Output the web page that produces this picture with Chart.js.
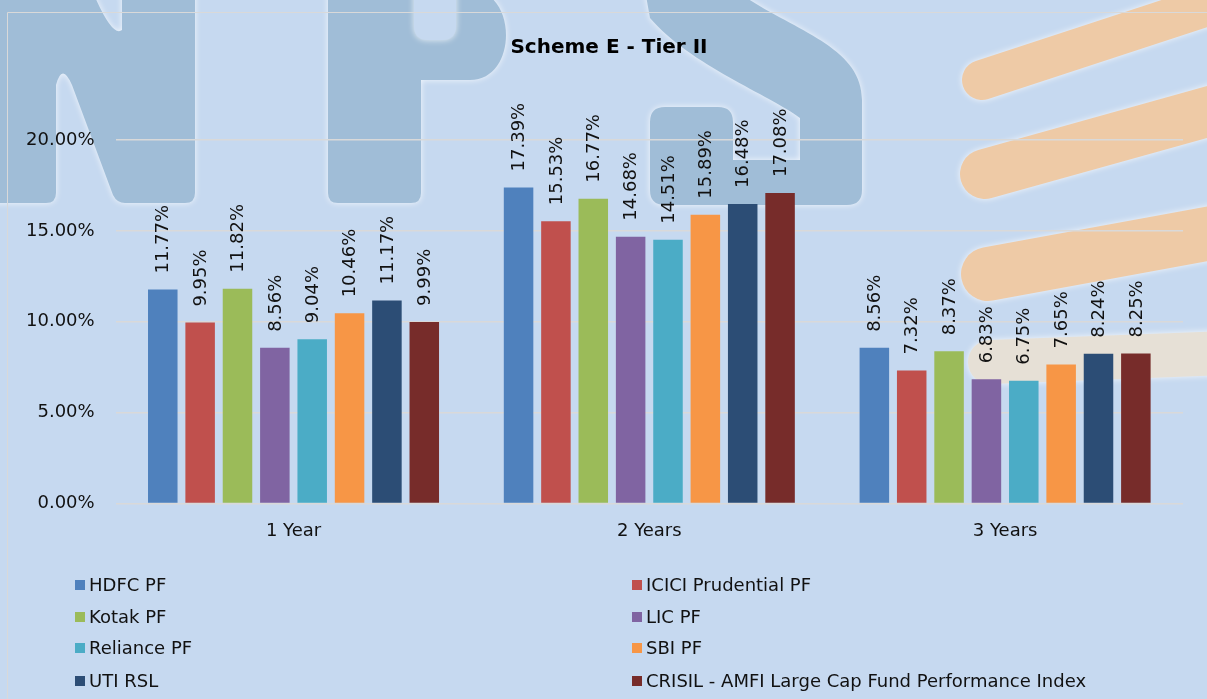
<!DOCTYPE html>
<html>
<head>
<meta charset="utf-8">
<script src="https://cdn.jsdelivr.net/npm/chart.js@4.4.0/dist/chart.umd.min.js"></script>
<style>
  html, body { margin: 0; padding: 0; background: #c6d9f0; }
  #wrap { width: 1207px; height: 699px; }
</style>
</head>
<body>
<div id="wrap"><canvas id="schemeChart" width="1207" height="699"></canvas></div>
<script>
// data
var categories = ['1 Year', '2 Years', '3 Years'];
var seriesNames = ['HDFC PF', 'ICICI Prudential PF', 'Kotak PF', 'LIC PF',
                   'Reliance PF', 'SBI PF', 'UTI RSL', 'CRISIL - AMFI Large Cap Fund Performance Index'];
var hdfc = [11.77, 17.39, 8.56];
var icici = [9.95, 15.53, 7.32];
var kotak = [11.82, 16.77, 8.37];
var lic = [8.56, 14.68, 6.83];
var reliance = [9.04, 14.51, 6.75];
var sbi = [10.46, 15.89, 7.65];
var uti = [11.17, 16.48, 8.24];
var crisil = [9.99, 17.08, 8.25];
var seriesColors = ['#4f81bd', '#c0504d', '#9bbb59', '#8064a2', '#4bacc6', '#f79646', '#2c4d75', '#772c2a'];
var chartTitle = 'Scheme E - Tier II';

var allSeries = [hdfc, icici, kotak, lic, reliance, sbi, uti, crisil];
var BG = '#c6d9f0';
var FONT = "'DejaVu Sans', sans-serif";

// faded "NPS" logo behind the chart
function drawWatermark(ctx) {
  ctx.save();
  ctx.shadowColor = 'rgba(255,255,255,0.8)';
  ctx.shadowBlur = 6;
  ctx.fillStyle = '#a0bdd7';

  // N
  ctx.beginPath();
  ctx.moveTo(-20, -10);
  ctx.lineTo(92, -10);
  ctx.quadraticCurveTo(112, 38, 122, 30);
  ctx.lineTo(122, -10);
  ctx.lineTo(195, -10);
  ctx.lineTo(195, 193);
  ctx.quadraticCurveTo(195, 203, 185, 203);
  ctx.lineTo(125, 203);
  ctx.quadraticCurveTo(117, 203, 113, 195);
  ctx.lineTo(72, 85);
  ctx.quadraticCurveTo(62, 62, 56, 85);
  ctx.lineTo(56, 193);
  ctx.quadraticCurveTo(56, 203, 46, 203);
  ctx.lineTo(-20, 203);
  ctx.closePath();
  ctx.fill();

  // P
  ctx.beginPath();
  ctx.moveTo(328, -10);
  ctx.lineTo(470, -10);
  ctx.bezierCurveTo(518, -10, 518, 80, 470, 80);
  ctx.lineTo(421, 80);
  ctx.lineTo(421, 193);
  ctx.quadraticCurveTo(421, 203, 411, 203);
  ctx.lineTo(338, 203);
  ctx.quadraticCurveTo(328, 203, 328, 193);
  ctx.closePath();
  ctx.fill();
  ctx.fillStyle = BG;
  ctx.beginPath();
  ctx.moveTo(414, -20);
  ctx.lineTo(456, -20);
  ctx.lineTo(456, 26);
  ctx.quadraticCurveTo(456, 40, 442, 40);
  ctx.lineTo(428, 40);
  ctx.quadraticCurveTo(414, 40, 414, 26);
  ctx.closePath();
  ctx.fill();

  // S
  ctx.fillStyle = '#a0bdd7';
  ctx.beginPath();
  ctx.moveTo(645, -10);
  ctx.lineTo(735, -10);
  ctx.bezierCurveTo(790, 30, 862, 45, 862, 100);
  ctx.lineTo(862, 190);
  ctx.quadraticCurveTo(862, 205, 847, 205);
  ctx.lineTo(665, 205);
  ctx.quadraticCurveTo(650, 205, 650, 190);
  ctx.lineTo(650, 122);
  ctx.quadraticCurveTo(650, 107, 665, 107);
  ctx.lineTo(718, 107);
  ctx.quadraticCurveTo(733, 107, 733, 122);
  ctx.lineTo(733, 160);
  ctx.lineTo(800, 160);
  ctx.lineTo(800, 118);
  ctx.bezierCurveTo(770, 95, 690, 65, 650, 18);
  ctx.closePath();
  ctx.fill();

  // orange stripes on the right
  ctx.lineCap = 'round';
  ctx.strokeStyle = '#eecaa6';
  ctx.lineWidth = 40;
  ctx.beginPath(); ctx.moveTo(982, 80); ctx.lineTo(1250, -8); ctx.stroke();
  ctx.lineWidth = 50;
  ctx.beginPath(); ctx.moveTo(985, 174); ctx.lineTo(1250, 100); ctx.stroke();
  ctx.lineWidth = 54;
  ctx.beginPath(); ctx.moveTo(988, 274); ctx.lineTo(1250, 226); ctx.stroke();
  ctx.strokeStyle = '#e6e0d6';
  ctx.lineWidth = 44;
  ctx.beginPath(); ctx.moveTo(990, 362); ctx.lineTo(1250, 352); ctx.stroke();
  ctx.restore();

  // chart frame
  ctx.save();
  ctx.strokeStyle = '#d9d9d9';
  ctx.lineWidth = 1;
  ctx.beginPath();
  ctx.moveTo(7.5, 700);
  ctx.lineTo(7.5, 12.5);
  ctx.lineTo(1210, 12.5);
  ctx.stroke();
  ctx.restore();
}

var backgroundPlugin = {
  id: 'background',
  beforeDraw: function(chart) {
    var ctx = chart.ctx;
    ctx.save();
    ctx.fillStyle = BG;
    ctx.fillRect(0, 0, chart.width, chart.height);
    ctx.restore();
    drawWatermark(ctx);
  }
};

var valueLabelPlugin = {
  id: 'valueLabels',
  afterDatasetsDraw: function(chart) {
    var ctx = chart.ctx;
    ctx.save();
    ctx.font = '18px ' + FONT;
    ctx.fillStyle = '#111';
    ctx.textAlign = 'left';
    ctx.textBaseline = 'middle';
    chart.data.datasets.forEach(function(ds, i) {
      chart.getDatasetMeta(i).data.forEach(function(bar, j) {
        ctx.save();
        ctx.translate(bar.x + 1, bar.y - 16);
        ctx.rotate(-Math.PI / 2);
        ctx.fillText(ds.data[j].toFixed(2) + '%', 0, 0);
        ctx.restore();
      });
    });
    ctx.restore();
  }
};

// title and two-column legend
var textPlugin = {
  id: 'titleAndLegend',
  afterDraw: function(chart) {
    var ctx = chart.ctx;
    ctx.save();
    ctx.font = 'bold 20px ' + FONT;
    ctx.fillStyle = '#000';
    ctx.textAlign = 'center';
    ctx.textBaseline = 'middle';
    ctx.fillText(chartTitle, 609, 48);

    var colX = [75, 632];
    var rowY = [585, 617, 648, 681];
    ctx.font = '18px ' + FONT;
    ctx.textAlign = 'left';
    chart.data.datasets.forEach(function(ds, i) {
      var x = colX[i % 2];
      var y = rowY[Math.floor(i / 2)];
      ctx.fillStyle = ds.backgroundColor;
      ctx.fillRect(x, y - 5, 10, 10);
      ctx.fillStyle = '#111';
      ctx.fillText(ds.label, x + 14, y + 1);
    });
    ctx.restore();
  }
};

var datasets = seriesNames.map(function(name, i) {
  return {
    label: name,
    data: allSeries[i],
    backgroundColor: seriesColors[i],
    borderWidth: 0,
    categoryPercentage: 0.84,
    barPercentage: 0.79
  };
});

new Chart(document.getElementById('schemeChart'), {
  type: 'bar',
  data: { labels: categories, datasets: datasets },
  options: {
    responsive: false,
    animation: false,
    layout: { padding: { left: 5, right: 24, top: 140, bottom: 148 } },
    plugins: {
      legend: { display: false },
      tooltip: { enabled: false },
      title: { display: false }
    },
    scales: {
      x: {
        grid: { display: false },
        border: { display: false },
        ticks: { color: '#111', font: { family: FONT, size: 18 }, padding: 9 }
      },
      y: {
        min: 0,
        max: 20,
        grid: { color: '#d9d9d9', lineWidth: 1.5, drawTicks: false },
        border: { display: false },
        ticks: {
          stepSize: 5,
          color: '#111',
          font: { family: FONT, size: 18 },
          padding: 21,
          callback: function(v) { return v.toFixed(2) + '%'; }
        }
      }
    }
  },
  plugins: [backgroundPlugin, valueLabelPlugin, textPlugin]
});
</script>
</body>
</html>
